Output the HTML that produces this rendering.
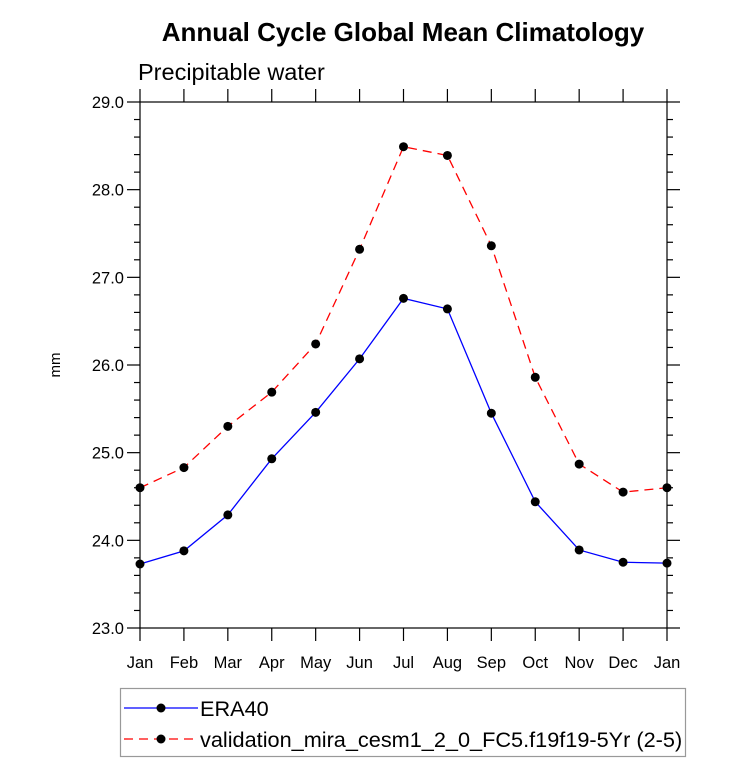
<!DOCTYPE html>
<html><head><meta charset="utf-8"><style>
body{margin:0;background:#fff;}
svg{display:block;font-family:"Liberation Sans",Arial,sans-serif;}
</style></head><body>
<svg id="chart" width="733" height="780" viewBox="0 0 733 780">
<text x="403" y="41" text-anchor="middle" font-size="26" font-weight="bold">Annual Cycle Global Mean Climatology</text>
<text x="138" y="80" font-size="23.5">Precipitable water</text>
<text transform="translate(60,365) rotate(-90)" text-anchor="middle" font-size="15">mm</text>
<g id="axes"></g>
<g id="series"></g>
<g>
<rect x="120.5" y="688.5" width="565" height="68" fill="none" stroke="#999" stroke-width="1.2"/>
<line x1="124" y1="708" x2="198" y2="708" stroke="#0000ff" stroke-width="1.3"/>
<circle cx="161" cy="708" r="4.5" fill="#000"/>
<text x="200" y="716" font-size="21.7">ERA40</text>
<line x1="124" y1="739" x2="198" y2="739" stroke="#ff0000" stroke-width="1.3" stroke-dasharray="9,6"/>
<circle cx="161" cy="739" r="4.5" fill="#000"/>
<text x="200" y="747" font-size="21.7">validation_mira_cesm1_2_0_FC5.f19f19-5Yr (2-5)</text>
</g>
</svg>
<script>
const months = ["Jan","Feb","Mar","Apr","May","Jun","Jul","Aug","Sep","Oct","Nov","Dec","Jan"];
const era40 = [23.73,23.88,24.29,24.93,25.46,26.07,26.76,26.64,25.45,24.44,23.89,23.75,23.74];
const model = [24.60,24.83,25.30,25.69,26.24,27.32,28.49,28.39,27.36,25.86,24.87,24.55,24.60];
const yTicks = ["23.0","24.0","25.0","26.0","27.0","28.0","29.0"];
const X0=140,X1=667,Y0=628,Y1=102,YMIN=23,YMAX=29;
const xs=i=>X0+i*(X1-X0)/(months.length-1);
const ys=v=>Y0-(v-YMIN)*(Y0-Y1)/(YMAX-YMIN);
const NS="http://www.w3.org/2000/svg";
function mk(tag,attrs,parent){const e=document.createElementNS(NS,tag);for(const k in attrs)e.setAttribute(k,attrs[k]);parent.appendChild(e);return e;}
const ax=document.getElementById('axes');
const frame=mk('rect',{x:X0,y:Y1,width:X1-X0,height:Y0-Y1,fill:'none',stroke:'#000','stroke-width':1.2},ax);


for(let i=0;i<months.length;i++){
  const x=xs(i);
  mk('line',{x1:x,y1:Y0,x2:x,y2:Y0+13,stroke:'#000','stroke-width':1.2},ax);
  mk('line',{x1:x,y1:Y1,x2:x,y2:Y1-13,stroke:'#000','stroke-width':1.2},ax);
  const t=mk('text',{x:x,y:Y0+40,'text-anchor':'middle','font-size':16.5},ax);
  t.textContent=months[i];
  
  
}
for(let v=YMIN*5;v<=YMAX*5;v++){
  const y=ys(v/5),major=v%5===0,L=major?13:6;
  mk('line',{x1:X0,y1:y,x2:X0-L,y2:y,stroke:'#000','stroke-width':1.2},ax);
  mk('line',{x1:X1,y1:y,x2:X1+L,y2:y,stroke:'#000','stroke-width':1.2},ax);
}
yTicks.forEach(s=>{
  const t=mk('text',{x:X0-16,y:ys(parseFloat(s))+6,'text-anchor':'end','font-size':16.5},ax);
  t.textContent=s;
  
  
});
const sg=document.getElementById('series');
function draw(data,color,dash,name){
  const p=mk('polyline',{points:data.map((v,i)=>xs(i)+','+ys(v)).join(' '),fill:'none',stroke:color,'stroke-width':1.3},sg);
  if(dash)p.setAttribute('stroke-dasharray',dash);
  
  
  data.forEach((v,i)=>{
    const c=mk('circle',{cx:xs(i),cy:ys(v),r:4.5,fill:'#000'},sg);
    
    
  });
}
draw(era40,'#0000ff',null,'era40');
draw(model,'#ff0000','9,6','model');
</script>
</body></html>
